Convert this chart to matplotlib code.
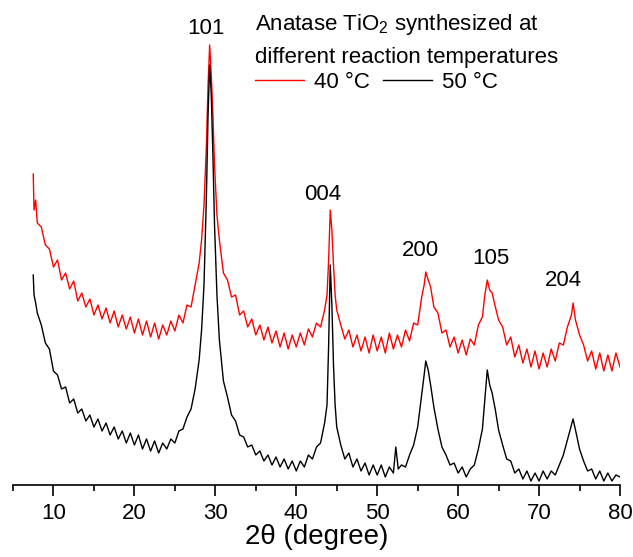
import matplotlib
matplotlib.use("Agg")
import matplotlib.pyplot as plt
from matplotlib.ticker import MultipleLocator

plt.rcParams['font.family'] = ['Liberation Sans', 'DejaVu Sans']
plt.rcParams['mathtext.fontset'] = 'custom'
plt.rcParams['mathtext.rm'] = 'Liberation Sans'

# 2theta (deg) and intensity (a.u.)
x_40 = [7.5, 7.6, 7.8, 8.0, 8.5, 9.0, 9.5, 10.0, 10.5, 11.0, 11.5, 12.0, 12.5, 13.0, 13.5,
        14.0, 14.5, 15.0, 15.5, 16.0, 16.5, 17.0, 17.5, 18.0, 18.5, 19.0, 19.5, 20.0, 20.5,
        21.0, 21.5, 22.0, 22.5, 23.0, 23.5, 24.0, 24.5, 25.0, 25.5, 26.0, 26.5, 27.0, 27.5,
        28.0, 28.3, 28.6, 28.9, 29.1, 29.3, 29.5, 29.7, 29.9, 30.2, 30.5, 31.0, 31.5, 32.0,
        32.5, 33.0, 33.5, 34.0, 34.5, 35.0, 35.5, 36.0, 36.5, 37.0, 37.5, 38.0, 38.5, 39.0,
        39.5, 40.0, 40.5, 41.0, 41.5, 42.0, 42.5, 43.0, 43.5, 43.8, 44.0, 44.2, 44.4, 44.6,
        44.8, 45.0, 45.5, 46.0, 46.5, 47.0, 47.5, 48.0, 48.5, 49.0, 49.5, 50.0, 50.5, 51.0,
        51.5, 52.0, 52.5, 53.0, 53.5, 54.0, 54.5, 55.0, 55.5, 55.8, 56.0, 56.3, 56.6, 57.0,
        57.5, 58.0, 58.5, 59.0, 59.5, 60.0, 60.5, 61.0, 61.5, 62.0, 62.5, 63.0, 63.3, 63.6,
        63.9, 64.2, 64.6, 65.0, 65.5, 66.0, 66.5, 67.0, 67.5, 68.0, 68.5, 69.0, 69.5, 70.0,
        70.5, 71.0, 71.5, 72.0, 72.5, 73.0, 73.5, 74.0, 74.2, 74.5, 75.0, 75.5, 76.0, 76.5,
        77.0, 77.5, 78.0, 78.5, 79.0, 79.5, 80.0]
y_40 = [311, 275, 285, 262, 258, 240, 236, 218, 225, 205, 212, 196, 204, 184, 192,
        178, 186, 170, 180, 166, 177, 162, 174, 158, 170, 156, 168, 152, 166,
        150, 164, 148, 162, 146, 160, 150, 164, 154, 170, 162, 180, 178, 200,
        222, 245, 280, 340, 400, 440, 410, 370, 320, 270, 245, 212, 205, 188,
        190, 170, 174, 158, 166, 150, 160, 145, 158, 142, 154, 138, 152, 136,
        150, 138, 152, 140, 156, 148, 162, 158, 175, 190, 225, 275, 255, 220,
        190, 175, 160, 146, 155, 138, 150, 134, 148, 132, 150, 134, 148, 132,
        152, 136, 150, 138, 155, 144, 162, 160, 188, 200, 213, 205, 198, 178,
        172, 152, 155, 138, 148, 132, 145, 130, 146, 140, 160, 168, 190, 205,
        195, 192, 178, 165, 158, 140, 148, 128, 140, 122, 136, 118, 134, 116,
        132, 118, 136, 124, 142, 140, 158, 170, 182, 165, 150, 140, 124, 134,
        116, 132, 114, 130, 114, 132, 118]

x_50 = [7.5, 7.6, 7.8, 8.0, 8.5, 9.0, 9.5, 10.0, 10.5, 11.0, 11.5, 12.0, 12.5, 13.0, 13.5,
        14.0, 14.5, 15.0, 15.5, 16.0, 16.5, 17.0, 17.5, 18.0, 18.5, 19.0, 19.5, 20.0, 20.5,
        21.0, 21.5, 22.0, 22.5, 23.0, 23.5, 24.0, 24.5, 25.0, 25.5, 26.0, 26.5, 27.0, 27.5,
        28.0, 28.3, 28.6, 28.9, 29.1, 29.3, 29.5, 29.7, 29.9, 30.2, 30.5, 31.0, 31.5, 32.0,
        32.5, 33.0, 33.5, 34.0, 34.5, 35.0, 35.5, 36.0, 36.5, 37.0, 37.5, 38.0, 38.5, 39.0,
        39.5, 40.0, 40.5, 41.0, 41.5, 42.0, 42.5, 43.0, 43.5, 43.8, 44.0, 44.2, 44.4, 44.6,
        44.8, 45.0, 45.5, 46.0, 46.5, 47.0, 47.5, 48.0, 48.5, 49.0, 49.5, 50.0, 50.5, 51.0,
        51.5, 52.0, 52.3, 52.6, 53.0, 53.5, 54.0, 54.5, 55.0, 55.5, 55.8, 56.0, 56.3, 56.6,
        57.0, 57.5, 58.0, 58.5, 59.0, 59.5, 60.0, 60.5, 61.0, 61.5, 62.0, 62.5, 63.0, 63.3,
        63.6, 63.9, 64.2, 64.6, 65.0, 65.5, 66.0, 66.5, 67.0, 67.5, 68.0, 68.5, 69.0, 69.5,
        70.0, 70.5, 71.0, 71.5, 72.0, 72.5, 73.0, 73.5, 74.0, 74.2, 74.5, 75.0, 75.5, 76.0,
        76.5, 77.0, 77.5, 78.0, 78.5, 79.0, 79.5, 80.0]
y_50 = [210, 190, 182, 172, 160, 142, 136, 114, 110, 96, 98, 82, 86, 72, 76,
        64, 70, 58, 66, 54, 62, 50, 58, 46, 54, 42, 52, 40, 50,
        36, 46, 34, 44, 32, 42, 36, 46, 42, 54, 56, 68, 76, 96,
        125, 155, 200, 290, 370, 420, 390, 330, 260, 190, 145, 104, 88, 70,
        64, 50, 48, 38, 40, 30, 34, 24, 30, 20, 28, 18, 26, 16,
        24, 14, 24, 18, 30, 26, 38, 42, 62, 80, 140, 220, 180, 120,
        80, 58, 40, 26, 32, 18, 26, 14, 22, 10, 20, 10, 20, 8,
        18, 12, 38, 16, 20, 18, 30, 40, 58, 90, 110, 124, 115, 100,
        78, 56, 38, 30, 20, 22, 12, 18, 8, 16, 20, 36, 56, 85,
        115, 100, 92, 75, 55, 40, 26, 24, 12, 16, 6, 14, 4, 12,
        4, 14, 6, 14, 10, 20, 30, 45, 60, 66, 55, 36, 24, 14,
        16, 6, 14, 4, 12, 4, 10, 8]

peak_labels = ['101', '004', '200', '105', '204']
peak_x = [28.8, 43.3, 55.3, 64.1, 73.0]
peak_y = [456, 290, 235, 227, 204]

W, H = 633, 557
fig = plt.figure(figsize=(W / 100, H / 100), dpi=100)
ax = fig.add_axes([13 / W, (H - 485) / H, (620 - 13) / W, 485 / H])

ax.plot(x_40, y_40, color='#ff0000', lw=1.0, label='40 °C')
ax.plot(x_50, y_50, color='black', lw=1.0, label='50 °C')

for lab, px, py in zip(peak_labels, peak_x, peak_y):
    ax.text(px, py, lab, ha='center', va='center', fontsize=16)

ax.set_xlim(5, 80)
ax.set_ylim(0, 485)
for s in ['left', 'right', 'top']:
    ax.spines[s].set_visible(False)
ax.spines['bottom'].set_linewidth(1.2)
ax.set_yticks([])
ax.xaxis.set_major_locator(MultipleLocator(10))
ax.xaxis.set_minor_locator(MultipleLocator(5))
ax.tick_params(axis='x', which='major', direction='out', length=8, width=1.2, labelsize=16, pad=5)
ax.tick_params(axis='x', which='minor', direction='out', length=4.5, width=1.2)
ax.set_xlabel('2θ (degree)', fontsize=20, labelpad=0)

fig.text(255 / W, 1 - 30 / H, 'Anatase TiO$_\\mathrm{2}$ synthesized at', fontsize=16, va='baseline')
fig.text(255 / W, 1 - 63 / H, 'different reaction temperatures', fontsize=16, va='baseline')
ax.legend(loc='center left', bbox_to_anchor=(255 / W, 1 - 82 / H), bbox_transform=fig.transFigure,
          ncol=2, frameon=False, fontsize=16, handlelength=2.2, handletextpad=0.45,
          columnspacing=0.6, borderpad=0, borderaxespad=0)

fig.savefig('out.png', dpi=100)
